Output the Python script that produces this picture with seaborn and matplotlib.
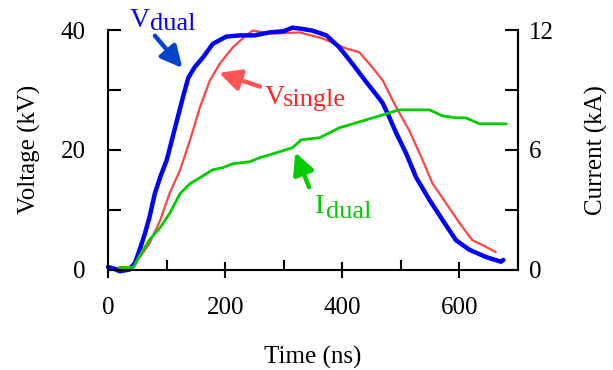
import seaborn as sns
import matplotlib.pyplot as plt

# time axis values (ns)
t_vdual = [0, 9, 20, 37, 46, 54, 63, 71, 80, 89, 100, 109, 119, 128, 137, 148, 162, 179,
           202, 225, 250, 276, 300, 315, 330, 349, 373, 395, 417, 441, 458, 469, 480, 492,
           509, 526, 549, 571, 594, 617, 645, 671, 675]
v_dual = [0.4, 0.2, -0.3, 0.0, 1.1, 3.3, 6.0, 8.8, 12.7, 15.4, 18.2, 21.6, 25.4, 28.8, 32.0,
          33.8, 35.4, 37.7, 38.9, 39.1, 39.1, 39.6, 39.8, 40.4, 40.2, 39.9, 39.1, 37.1, 34.4,
          31.3, 29.2, 27.8, 25.5, 22.8, 19.4, 15.4, 11.6, 8.3, 4.9, 3.3, 2.1, 1.3, 1.6]

t_vsingle = [0, 9, 37, 54, 71, 89, 105, 123, 140, 157, 174, 191, 213, 236, 247, 281, 327,
             366, 407, 429, 451, 469, 492, 514, 537, 554, 577, 600, 622, 645, 662]
v_single = [0.2, 0.2, 0.4, 2.0, 4.4, 8.2, 12.7, 16.6, 21.6, 27.1, 31.6, 34.4, 37.1, 39.1,
            39.9, 39.4, 39.6, 38.6, 36.9, 36.3, 33.8, 31.6, 27.1, 23.3, 18.3, 14.4, 11.1,
            7.8, 4.9, 3.8, 2.9]

t_idual = [20, 43, 54, 71, 89, 105, 123, 140, 157, 179, 196, 213, 242, 259, 293, 315, 330,
           361, 395, 441, 475, 497, 549, 571, 594, 611, 634, 680]
i_dual = [0.1, 0.1, 0.7, 1.5, 2.1, 2.8, 3.8, 4.3, 4.6, 5.0, 5.1, 5.3, 5.4, 5.6, 5.9, 6.1,
          6.5, 6.6, 7.1, 7.5, 7.8, 8.0, 8.0, 7.7, 7.6, 7.6, 7.3, 7.3]

sns.set_style("ticks", {'axes.edgecolor': 'black', 'text.color': 'black',
                        'axes.labelcolor': 'black', 'xtick.color': 'black',
                        'ytick.color': 'black'})
plt.rcParams['font.family'] = ['Liberation Serif', 'DejaVu Serif']
fs = 18

fig = plt.figure(figsize=(6.13, 3.7), dpi=100)
ax = fig.add_axes([0.1762, 0.2716, 0.6688, 0.6473])
ax2 = ax.twinx()

sns.lineplot(x=t_vsingle, y=v_single, ax=ax, color='#ff4444', lw=1.6, clip_on=False)
sns.lineplot(x=t_vdual, y=v_dual, ax=ax, color='#0000ff', lw=3.2, clip_on=False)
sns.lineplot(x=t_idual, y=i_dual, ax=ax2, color='#00cc00', lw=2.0, clip_on=False)

ax.set_xlim(0, 700)
ax.set_ylim(0, 40)
ax2.set_ylim(0, 12)

for a in (ax, ax2):
    a.spines['top'].set_visible(False)
    for s in a.spines.values():
        s.set_linewidth(1.5)
        s.set_color('black')
ax2.spines['left'].set_visible(False)
ax2.spines['bottom'].set_visible(False)

ax.set_xticks([0, 200, 400, 600])
ax.set_xticks([100, 300, 500], minor=True)
ax.set_yticks([0, 20, 40])
ax.set_yticks([10, 30], minor=True)
ax2.set_yticks([0, 6, 12])
ax2.set_yticks([3, 9], minor=True)

ax.tick_params(axis='x', which='major', direction='inout', length=12, width=1.5,
               labelsize=fs, pad=14, colors='black')
ax.tick_params(axis='x', which='minor', direction='in', length=7, width=1.5, colors='black')
ax.tick_params(axis='y', which='both', direction='in', length=9.5, width=1.5,
               labelsize=fs, pad=16, colors='black')
ax2.tick_params(axis='y', which='both', direction='in', length=9.5, width=1.5,
                labelsize=fs, pad=8, colors='black')

ax.set_xlabel('Time (ns)', fontsize=fs, labelpad=19, color='black')
ax.set_ylabel('Voltage (kV)', fontsize=fs, labelpad=14, color='black')
ax2.set_ylabel('Current (kA)', fontsize=fs, labelpad=22, color='black')

arrow = dict(arrowstyle='-|>', lw=3.2, mutation_scale=32)

# V_dual label
ax.text(37, 40.5, 'V', color='#0000ff', fontsize=fs + 2, ha='left', va='baseline', clip_on=False)
ax.text(71, 40.0, 'dual', color='#0000ff', fontsize=fs + 1, ha='left', va='baseline', clip_on=False)
ax.annotate('', xy=(130, 33.3), xytext=(77, 39.4),
            arrowprops=dict(arrow, color='#0044cc'), annotation_clip=False)

# V_single label
ax.text(267, 27.7, 'V', color='#ff2222', fontsize=fs + 2, ha='left', va='baseline')
ax.text(298, 27.3, 'single', color='#ff2222', fontsize=fs + 1, ha='left', va='baseline')
ax.annotate('', xy=(185, 33.0), xytext=(264, 30.4),
            arrowprops=dict(arrow, color='#ff5555'))

# I_dual label
ax2.text(353, 2.85, 'I', color='#00cc00', fontsize=fs + 2, ha='left', va='baseline')
ax2.text(373, 2.6, 'dual', color='#00cc00', fontsize=fs + 1, ha='left', va='baseline')
ax2.annotate('', xy=(318, 6.0), xytext=(345, 4.0),
             arrowprops=dict(arrow, color='#00cc00'))

fig.savefig('out.png', dpi=100)
